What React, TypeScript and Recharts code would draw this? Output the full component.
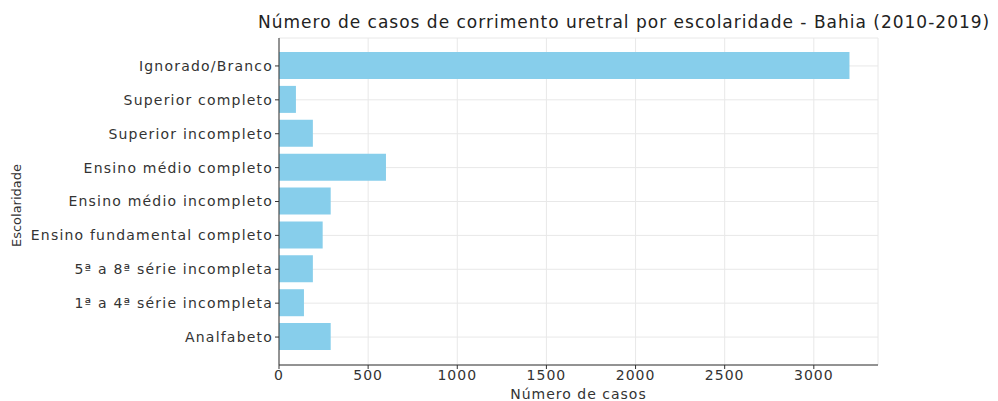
import React from 'react';
import { BarChart, Bar, XAxis, YAxis, CartesianGrid } from 'recharts';

const categories = [
  'Ignorado/Branco',
  'Superior completo',
  'Superior incompleto',
  'Ensino médio completo',
  'Ensino médio incompleto',
  'Ensino fundamental completo',
  '5ª a 8ª série incompleta',
  '1ª a 4ª série incompleta',
  'Analfabeto',
];
const values = [3200, 95, 190, 600, 290, 245, 190, 140, 290];
const xTicks = [0, 500, 1000, 1500, 2000, 2500, 3000];

const data = categories.map((c, i) => ({ name: c, casos: values[i] }));

const FONT = '"DejaVu Sans", Verdana, sans-serif';

export default function App() {
  return (
    <div style={{ position: 'absolute', left: 0, top: 0, width: 998, height: 401, background: '#fff', fontFamily: FONT }}>
      <div
        style={{
          position: 'absolute',
          left: 258,
          width: 730,
          top: 12,
          textAlign: 'center',
          fontSize: 17,
          letterSpacing: 1,
          color: '#222',
          whiteSpace: 'nowrap',
          fontFamily: FONT,
        }}
      >
        Número de casos de corrimento uretral por escolaridade - Bahia (2010-2019)
      </div>
      <BarChart
        width={998}
        height={401}
        data={data}
        layout="vertical"
        margin={{ top: 38, right: 120, bottom: 0, left: 0 }}
      >
        <CartesianGrid stroke="#e8e8e8" strokeWidth={1} />
        <XAxis
          type="number"
          domain={[0, 3360]}
          ticks={xTicks}
          allowDataOverflow
          tick={{ fill: '#333', fontSize: 14, fontFamily: FONT, style: { letterSpacing: 1 } }}
          tickSize={4}
          tickMargin={1}
          axisLine={{ stroke: '#333' }}
          tickLine={{ stroke: '#333' }}
          height={36}
          label={{ value: 'Número de casos', position: 'insideBottom', offset: 2, fill: '#333', fontSize: 14, fontFamily: FONT, style: { letterSpacing: 1 } }}
        />
        <YAxis
          type="category"
          dataKey="name"
          width={279}
          padding={{ top: 11, bottom: 11 }}
          tick={{ fill: '#333', fontSize: 14, fontFamily: FONT, style: { letterSpacing: 1.2 } }}
          tickSize={4}
          tickMargin={2}
          axisLine={{ stroke: '#333' }}
          tickLine={{ stroke: '#333' }}
          interval={0}
          label={{ value: 'Escolaridade', angle: -90, position: 'insideLeft', offset: 16, dy: 4, fill: '#333', fontSize: 13, fontFamily: FONT, style: { textAnchor: 'middle' } }}
        />
        <Bar dataKey="casos" fill="#87ceeb" barSize={27} isAnimationActive={false} />
      </BarChart>
    </div>
  );
}
